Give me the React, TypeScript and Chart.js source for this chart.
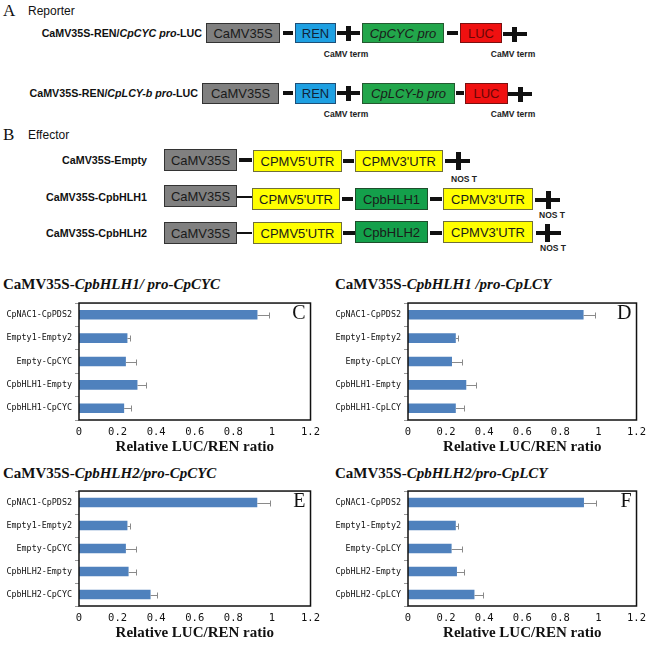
import React, { useEffect, useRef } from 'react';
import { Chart, registerables } from 'chart.js';
Chart.register(...registerables);

// ---------- data ----------
const xTickLabels = ['0', '0.2', '0.4', '0.6', '0.8', '1', '1.2'];

const catsC = ['CpNAC1-CpPDS2', 'Empty1-Empty2', 'Empty-CpCYC', 'CpbHLH1-Empty', 'CpbHLH1-CpCYC'];
const valsC = [0.925, 0.251, 0.243, 0.303, 0.234];
const errC = [0.06, 0.012, 0.05, 0.045, 0.033];

const catsD = ['CpNAC1-CpPDS2', 'Empty1-Empty2', 'Empty-CpLCY', 'CpbHLH1-Empty', 'CpbHLH1-CpLCY'];
const valsD = [0.922, 0.251, 0.231, 0.306, 0.251];
const errD = [0.06, 0.012, 0.054, 0.051, 0.043];

const catsE = ['CpNAC1-CpPDS2', 'Empty1-Empty2', 'Empty-CpCYC', 'CpbHLH2-Empty', 'CpbHLH2-CpCYC'];
const valsE = [0.924, 0.251, 0.243, 0.257, 0.371];
const errE = [0.064, 0.014, 0.051, 0.037, 0.034];

const catsF = ['CpNAC1-CpPDS2', 'Empty1-Empty2', 'Empty-CpLCY', 'CpbHLH2-Empty', 'CpbHLH2-CpLCY'];
const valsF = [0.924, 0.251, 0.229, 0.257, 0.349];
const errF = [0.064, 0.012, 0.053, 0.037, 0.043];

const axisTitle = 'Relative LUC/REN ratio';

// ---------- styles ----------
const SANS = '"Liberation Sans", Arial, sans-serif';
const SERIF = '"Liberation Serif", "Times New Roman", serif';
const MONO = '"DejaVu Sans Mono", monospace';

const GRAY = '#808080';
const BLUE = '#1ea0e2';
const GREEN = '#22a64b';
const GREEN2 = '#14a04b';
const RED = '#f01010';
const YELLOW = '#ffff00';

type BoxP = { x: number; y: number; w: number; h: number; bg: string; bd?: string; color?: string; italic?: boolean; size?: number; text: string };
const Box = ({ x, y, w, h, bg, bd = '#333', color = '#1a1a1a', italic = false, size = 13, text }: BoxP) => (
  <div
    style={{
      position: 'absolute', left: x, top: y, width: w, height: h, boxSizing: 'border-box',
      background: bg, border: `1px solid ${bd}`, color, fontFamily: SANS, fontSize: size,
      fontStyle: italic ? 'italic' : 'normal', display: 'flex', alignItems: 'center',
      justifyContent: 'center', whiteSpace: 'nowrap',
    }}
  >
    {text}
  </div>
);

const HLine = ({ x1, x2, y, t = 4 }: { x1: number; x2: number; y: number; t?: number }) => (
  <div style={{ position: 'absolute', left: x1, top: y - t / 2, width: x2 - x1, height: t, background: '#111' }} />
);

const Plus = ({ x1, x2, cx, cy, h = 15 }: { x1: number; x2: number; cx: number; cy: number; h?: number }) => (
  <>
    <HLine x1={x1} x2={x2} y={cy} t={4} />
    <div style={{ position: 'absolute', left: cx - 2.5, top: cy - h / 2, width: 5, height: h, background: '#111' }} />
  </>
);

const SmallLabel = ({ cx, cy, text }: { cx: number; cy: number; text: string }) => (
  <div
    style={{
      position: 'absolute', left: cx - 40, width: 80, top: cy - 6, lineHeight: '12px', textAlign: 'center',
      fontFamily: SANS, fontWeight: 'bold', fontSize: 8.5, color: '#222', whiteSpace: 'nowrap',
    }}
  >
    {text}
  </div>
);

const RowLabel = ({ right, cy, children }: { right: number; cy: number; children: React.ReactNode }) => (
  <div
    style={{
      position: 'absolute', right: 652 - right, top: cy - 7, lineHeight: '14px',
      fontFamily: SANS, fontWeight: 'bold', fontSize: 10.7, color: '#111', whiteSpace: 'nowrap',
    }}
  >
    {children}
  </div>
);

const PanelTitle = ({ x, cy, plain, ital }: { x: number; cy: number; plain: string; ital: string }) => (
  <div
    style={{
      position: 'absolute', left: x, top: cy - 9, lineHeight: '18px', fontFamily: SERIF,
      fontWeight: 'bold', fontSize: 15, color: '#111', whiteSpace: 'nowrap',
    }}
  >
    {plain}
    <i>{ital}</i>
  </div>
);

// ---------- chart panel ----------
type PanelP = {
  left: number; top: number; width: number; height: number; yWidth: number; padRight: number;
  cats: string[]; vals: number[]; errs: number[]; letter: string;
};

function BarPanel({ left, top, width, height, yWidth, padRight, cats, vals, errs, letter }: PanelP) {
  const ref = useRef<HTMLCanvasElement>(null);
  useEffect(() => {
    if (!ref.current) return;
    const plugin = {
      id: 'errframe',
      afterDatasetsDraw(chart: any) {
        const { ctx, chartArea: a, scales } = chart;
        const xs = scales.x;
        const meta = chart.getDatasetMeta(0);
        ctx.save();
        ctx.strokeStyle = '#8a8a8a';
        ctx.lineWidth = 1;
        meta.data.forEach((bar: any, i: number) => {
          const x0 = xs.getPixelForValue(vals[i]);
          const x1 = Math.round(xs.getPixelForValue(vals[i] + errs[i])) + 0.5;
          const y = Math.round(bar.y) + 0.5;
          ctx.beginPath();
          ctx.moveTo(x0, y);
          ctx.lineTo(x1, y);
          ctx.moveTo(x1, y - 3);
          ctx.lineTo(x1, y + 3);
          ctx.stroke();
        });
        ctx.strokeStyle = '#111';
        ctx.lineWidth = 1.5;
        ctx.strokeRect(a.left, a.top, a.right - a.left, a.bottom - a.top);
        ctx.fillStyle = '#111';
        ctx.font = `20px ${SERIF}`;
        ctx.textAlign = 'right';
        ctx.textBaseline = 'middle';
        ctx.fillText(letter, a.right - 5, a.top + 11);
        ctx.restore();
      },
    };
    const chart = new Chart(ref.current, {
      type: 'bar',
      data: {
        labels: cats,
        datasets: [
          { data: vals, backgroundColor: '#4f81bd', borderWidth: 0, barPercentage: 0.41, categoryPercentage: 1 },
        ],
      },
      options: {
        indexAxis: 'y',
        animation: false,
        responsive: false,
        layout: { padding: { top: 8, right: padRight, left: 0, bottom: 0 } },
        plugins: { legend: { display: false }, tooltip: { enabled: false } },
        scales: {
          x: {
            min: 0,
            max: 1.2,
            afterFit(s: any) { s.height = 36; },
            grid: { display: false, drawTicks: false },
            border: { display: false },
            ticks: {
              stepSize: 0.2,
              padding: 6,
              color: '#111',
              maxRotation: 0,
              autoSkip: false,
              font: { family: MONO, size: 10.5 },
              callback: (v: any) => xTickLabels[Math.round(Number(v) / 0.2)],
            },
            title: {
              display: true,
              text: axisTitle,
              color: '#111',
              padding: 0,
              font: { family: SERIF, size: 15, weight: 'bold' },
            },
          },
          y: {
            afterFit(s: any) { s.width = yWidth; },
            grid: { drawOnChartArea: false, drawTicks: true, tickLength: 4, color: '#999', offset: true },
            border: { display: false },
            ticks: { padding: 3, color: '#111', autoSkip: false, font: { family: MONO, size: 8.4 } },
          },
        },
      } as any,
      plugins: [plugin],
    });
    return () => chart.destroy();
  }, []);
  return <canvas ref={ref} width={width} height={height} style={{ position: 'absolute', left, top }} />;
}

// ---------- app ----------
export default function App() {
  return (
    <div style={{ position: 'absolute', left: 0, top: 0, width: 652, height: 646, background: '#fff', overflow: 'hidden' }}>
      {/* Panel A */}
      <div style={{ position: 'absolute', left: 3, top: 1, lineHeight: '20px', fontFamily: SERIF, fontSize: 17, color: '#111' }}>A</div>
      <div style={{ position: 'absolute', left: 28, top: 3, lineHeight: '16px', fontFamily: SANS, fontSize: 12, color: '#111' }}>Reporter</div>

      <RowLabel right={202} cy={33}>CaMV35S-REN/<i>CpCYC pro</i>-LUC</RowLabel>
      <Box x={206} y={23} w={74} h={20} bg={GRAY} text="CaMV35S" />
      <HLine x1={283} x2={293} y={33} />
      <Box x={295} y={23} w={41} h={20} bg={BLUE} bd="#1d4f78" color="#10243a" text="REN" />
      <Plus x1={337} x2={360} cx={348} cy={33} />
      <Box x={362} y={23} w={82} h={20} bg={GREEN} bd="#245a30" italic text="CpCYC pro" />
      <HLine x1={447} x2={458} y={33} />
      <Box x={460} y={23} w={42} h={20} bg={RED} bd="#7a1010" color="#6a0606" text="LUC" />
      <Plus x1={503} x2={527} cx={514} cy={34} />
      <SmallLabel cx={346} cy={54} text="CaMV term" />
      <SmallLabel cx={513} cy={54} text="CaMV term" />

      <RowLabel right={198} cy={93}>CaMV35S-REN/<i>CpLCY-b pro</i>-LUC</RowLabel>
      <Box x={202} y={83} w={77} h={21} bg={GRAY} text="CaMV35S" />
      <HLine x1={283} x2={293} y={93} />
      <Box x={295} y={83} w={41} h={21} bg={BLUE} bd="#1d4f78" color="#10243a" text="REN" />
      <Plus x1={337} x2={360} cx={348} cy={93} />
      <Box x={362} y={83} w={93} h={21} bg={GREEN} bd="#245a30" italic text="CpLCY-b pro" />
      <HLine x1={456} x2={464} y={93} />
      <Box x={465} y={83} w={43} h={21} bg={RED} bd="#7a1010" color="#6a0606" text="LUC" />
      <Plus x1={508} x2={532} cx={520} cy={94} />
      <SmallLabel cx={346} cy={114} text="CaMV term" />
      <SmallLabel cx={513} cy={114} text="CaMV term" />

      {/* Panel B */}
      <div style={{ position: 'absolute', left: 3, top: 125, lineHeight: '20px', fontFamily: SERIF, fontSize: 17, color: '#111' }}>B</div>
      <div style={{ position: 'absolute', left: 28, top: 127, lineHeight: '16px', fontFamily: SANS, fontSize: 12, color: '#111' }}>Effector</div>

      <RowLabel right={147} cy={160}>CaMV35S-Empty</RowLabel>
      <Box x={164} y={149} w={73} h={22} bg={GRAY} text="CaMV35S" />
      <HLine x1={239} x2={252} y={160} />
      <Box x={253} y={150} w={89} h={22} bg={YELLOW} bd="#6f6f3a" text="CPMV5'UTR" />
      <HLine x1={343} x2={354} y={161} />
      <Box x={355} y={150} w={88} h={22} bg={YELLOW} bd="#6f6f3a" text="CPMV3'UTR" />
      <Plus x1={445} x2={470} cx={458} cy={161} h={18} />
      <SmallLabel cx={464} cy={179} text="NOS T" />

      <RowLabel right={147} cy={197}>CaMV35S-CpbHLH1</RowLabel>
      <Box x={164} y={185} w={73} h={22} bg={GRAY} text="CaMV35S" />
      <HLine x1={237} x2={252} y={197} t={1.5} />
      <Box x={252} y={188} w={88} h={22} bg={YELLOW} bd="#6f6f3a" text="CPMV5'UTR" />
      <HLine x1={342} x2={353} y={199} />
      <Box x={355} y={188} w={73} h={22} bg={GREEN2} bd="#1e4d2b" text="CpbHLH1" />
      <HLine x1={430} x2={442} y={199} />
      <Box x={443} y={188} w={90} h={22} bg={YELLOW} bd="#6f6f3a" text="CPMV3'UTR" />
      <Plus x1={535} x2={560} cx={548} cy={200} h={18} />
      <SmallLabel cx={552} cy={215} text="NOS T" />

      <RowLabel right={147} cy={233}>CaMV35S-CpbHLH2</RowLabel>
      <Box x={164} y={222} w={73} h={22} bg={GRAY} text="CaMV35S" />
      <HLine x1={237} x2={252} y={233} t={1.5} />
      <Box x={253} y={222} w={89} h={22} bg={YELLOW} bd="#6f6f3a" text="CPMV5'UTR" />
      <HLine x1={343} x2={355} y={233} />
      <Box x={355} y={221} w={73} h={22} bg={GREEN2} bd="#1e4d2b" text="CpbHLH2" />
      <HLine x1={430} x2={442} y={233} />
      <Box x={443} y={221} w={90} h={22} bg={YELLOW} bd="#6f6f3a" text="CPMV3'UTR" />
      <Plus x1={536} x2={561} cx={547} cy={233} h={18} />
      <SmallLabel cx={553} cy={248} text="NOS T" />

      {/* Charts */}
      <PanelTitle x={3} cy={284} plain="CaMV35S-" ital="CpbHLH1/ pro-CpCYC" />
      <PanelTitle x={335} cy={284} plain="CaMV35S-" ital="CpbHLH1 /pro-CpLCY" />
      <PanelTitle x={3} cy={473} plain="CaMV35S-" ital="CpbHLH2/pro-CpCYC" />
      <PanelTitle x={335} cy={473} plain="CaMV35S-" ital="CpbHLH2/pro-CpLCY" />

      <BarPanel left={0} top={295} width={326} height={161} yWidth={79} padRight={13} cats={catsC} vals={valsC} errs={errC} letter="C" />
      <BarPanel left={330} top={295} width={322} height={161} yWidth={78} padRight={11} cats={catsD} vals={valsD} errs={errD} letter="D" />
      <BarPanel left={0} top={483} width={326} height={159} yWidth={79} padRight={13} cats={catsE} vals={valsE} errs={errE} letter="E" />
      <BarPanel left={330} top={483} width={322} height={159} yWidth={78} padRight={11} cats={catsF} vals={valsF} errs={errF} letter="F" />
    </div>
  );
}
